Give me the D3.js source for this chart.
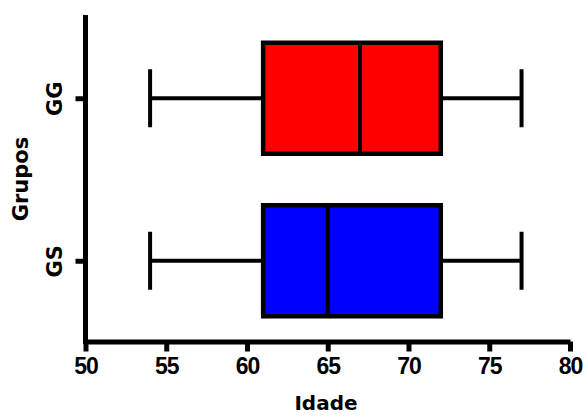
<!DOCTYPE html>
<html>
<head>
<meta charset="utf-8">
<script src="https://cdn.jsdelivr.net/npm/d3@7"></script>
<style>
  body { margin: 0; background: #fff; }
  svg text { font-family: "DejaVu Sans", sans-serif; font-weight: bold; fill: #000; }
  .xaxis text { font-family: "Liberation Sans", Arial, sans-serif; }
</style>
</head>
<body>
<div id="container"></div>
<script>
// box data per group (whisker low, Q1, median, Q3, whisker high)
var groups  = ["GG", "GS"];
var lowVals = [54, 54];
var q1Vals  = [61, 61];
var medVals = [67, 65];
var q3Vals  = [72, 72];
var highVals = [77, 77];
var colors  = ["#ff0000", "#0000ff"];
var xTicks  = [50, 55, 60, 65, 70, 75, 80];

var svg = d3.select("#container").append("svg")
    .attr("width", 584)
    .attr("height", 416);

var x = d3.scaleLinear().domain([50, 80]).range([85.5, 570]);
var y = d3.scalePoint().domain(groups).range([17, 342]).padding(0.5);

var boxH = 111, capH = 58;

var data = groups.map(function(g, i) {
  return { name: g, low: lowVals[i], q1: q1Vals[i], med: medVals[i], q3: q3Vals[i], high: highVals[i], color: colors[i] };
});

var box = svg.selectAll("g.box")
  .data(data)
  .enter()
  .append("g")
  .attr("class", "box");

// whisker lines
box.append("line")
  .attr("x1", function(d) { return x(d.low) })
  .attr("x2", function(d) { return x(d.q1) })
  .attr("y1", function(d) { return y(d.name) })
  .attr("y2", function(d) { return y(d.name) })
  .attr("stroke", "#000").attr("stroke-width", 4);
box.append("line")
  .attr("x1", function(d) { return x(d.q3) })
  .attr("x2", function(d) { return x(d.high) })
  .attr("y1", function(d) { return y(d.name) })
  .attr("y2", function(d) { return y(d.name) })
  .attr("stroke", "#000").attr("stroke-width", 4);
// caps
box.append("line")
  .attr("x1", function(d) { return x(d.low) })
  .attr("x2", function(d) { return x(d.low) })
  .attr("y1", function(d) { return y(d.name) - capH / 2 })
  .attr("y2", function(d) { return y(d.name) + capH / 2 })
  .attr("stroke", "#000").attr("stroke-width", 4);
box.append("line")
  .attr("x1", function(d) { return x(d.high) })
  .attr("x2", function(d) { return x(d.high) })
  .attr("y1", function(d) { return y(d.name) - capH / 2 })
  .attr("y2", function(d) { return y(d.name) + capH / 2 })
  .attr("stroke", "#000").attr("stroke-width", 4);
// box
box.append("rect")
  .attr("x", function(d) { return x(d.q1) })
  .attr("width", function(d) { return x(d.q3) - x(d.q1) })
  .attr("y", function(d) { return y(d.name) - boxH / 2 })
  .attr("height", boxH)
  .attr("fill", function(d) { return d.color })
  .attr("stroke", "#000").attr("stroke-width", 4.5);
// median
box.append("line")
  .attr("x1", function(d) { return x(d.med) })
  .attr("x2", function(d) { return x(d.med) })
  .attr("y1", function(d) { return y(d.name) - boxH / 2 })
  .attr("y2", function(d) { return y(d.name) + boxH / 2 })
  .attr("stroke", "#000").attr("stroke-width", 4);

// x axis
var xAxis = svg.append("g")
  .attr("class", "xaxis")
  .attr("transform", "translate(0,341.5)")
  .call(d3.axisBottom(x).tickValues(xTicks).tickSize(10).tickPadding(6).tickSizeOuter(0));
xAxis.select(".domain").attr("stroke", "#000").attr("stroke-width", 5);
xAxis.selectAll(".tick line").attr("stroke", "#000").attr("stroke-width", 5);
xAxis.selectAll("text").style("font-size", "23px").style("letter-spacing", "-1px");

// y axis
var yAxis = svg.append("g")
  .attr("class", "yaxis")
  .attr("transform", "translate(85.5,0)")
  .call(d3.axisLeft(y).tickSize(10).tickPadding(6).tickSizeOuter(0));
yAxis.select(".domain").attr("stroke", "#000").attr("stroke-width", 5)
  .attr("d", "M0,15V344");
yAxis.selectAll(".tick line").attr("stroke", "#000").attr("stroke-width", 5);
yAxis.selectAll("text")
  .style("font-size", "21px")
  .attr("transform", "rotate(-90)")
  .attr("x", 0).attr("y", -23.5)
  .attr("dy", 0)
  .style("text-anchor", "middle");

// axis titles
svg.append("text")
  .attr("x", 326)
  .attr("y", 410)
  .attr("text-anchor", "middle")
  .style("font-size", "20px")
  .text("Idade");

svg.append("text")
  .attr("transform", "translate(28,179) rotate(-90)")
  .attr("text-anchor", "middle")
  .style("font-size", "21px")
  .text("Grupos");
</script>
</body>
</html>
